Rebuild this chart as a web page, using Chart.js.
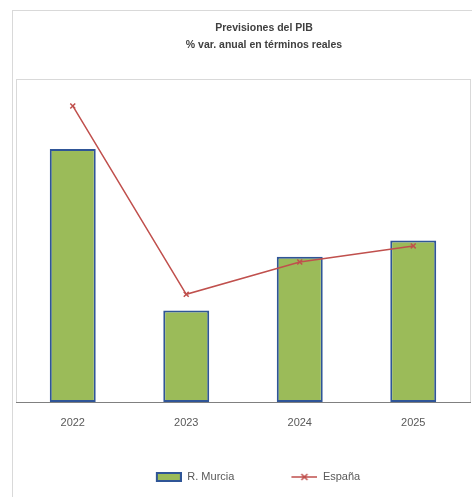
<!DOCTYPE html>
<html>
<head>
<meta charset="utf-8">
<script src="https://cdn.jsdelivr.net/npm/chart.js@4/dist/chart.umd.min.js"></script>
<style>
  html, body { margin: 0; padding: 0; background: #fff; overflow: hidden; }
  #frame { position: absolute; left: 12px; top: 10px; width: 540px; height: 540px; border: 1px solid #d9d9d9; }
  #pib { position: absolute; left: 0; top: 0; }
</style>
</head>
<body>
<div id="frame"></div>
<canvas id="pib" width="516" height="497"></canvas>
<script>
const years = ["2022", "2023", "2024", "2025"];
const murcia = [4.7, 1.7, 2.7, 3.0];
const espana = [5.5, 2.0, 2.6, 2.9];

const fontFamily = "'Liberation Sans Narrow', 'Liberation Sans', Arial, sans-serif";

// legend symbols, right aligned in a wider transparent box to space the items
function legendSymbol(draw) {
  const c = document.createElement("canvas");
  c.width = 56;
  c.height = 10;
  draw(c.getContext("2d"));
  return c;
}
const barSymbol = legendSymbol((g) => {
  g.fillStyle = "#9BBB59";
  g.fillRect(30, 0, 26, 10);
  g.strokeStyle = "#2F5597";
  g.lineWidth = 2;
  g.strokeRect(31, 1, 24, 8);
});
const lineSymbol = legendSymbol((g) => {
  g.strokeStyle = "#C0504D";
  g.lineWidth = 1.5;
  g.beginPath();
  g.moveTo(30, 5);
  g.lineTo(56, 5);
  g.moveTo(40, 2);
  g.lineTo(46, 8);
  g.moveTo(46, 2);
  g.lineTo(40, 8);
  g.stroke();
});

const plotBorder = {
  id: "plotBorder",
  beforeDraw(chart) {
    const { ctx, chartArea } = chart;
    ctx.save();
    ctx.strokeStyle = "#d9d9d9";
    ctx.lineWidth = 1;
    ctx.strokeRect(
      chartArea.left + 0.5,
      chartArea.top + 0.5,
      chartArea.right - chartArea.left,
      chartArea.bottom - chartArea.top
    );
    ctx.restore();
  },
};

const pibChart = new Chart(document.getElementById("pib").getContext("2d"), {
  type: "bar",
  data: {
    labels: years,
    datasets: [
      {
        label: "R. Murcia",
        data: murcia,
        backgroundColor: "#9BBB59",
        borderColor: "#2F5597",
        borderWidth: 2,
        borderSkipped: false,
        categoryPercentage: 1,
        barPercentage: 0.405,
        order: 1,
      },
      {
        type: "line",
        label: "España",
        data: espana,
        borderColor: "#C0504D",
        backgroundColor: "#C0504D",
        borderWidth: 1.5,
        pointStyle: "crossRot",
        pointRadius: 3.5,
        pointBorderWidth: 1.5,
        tension: 0,
        order: 0,
      },
    ],
  },
  options: {
    responsive: false,
    animation: false,
    layout: {
      padding: { left: 16, right: 4, top: 10, bottom: 4.5 },
    },
    plugins: {
      tooltip: { enabled: false },
      title: {
        display: true,
        text: ["Previsiones del PIB", "% var. anual en términos reales"],
        color: "#404040",
        font: { family: fontFamily, size: 10.5, weight: "bold", lineHeight: 1.62 },
        padding: { top: 9.5, bottom: 25.5 },
      },
      legend: {
        position: "bottom",
        fullSize: false,
        labels: {
          usePointStyle: true,
          pointStyleWidth: 56,
          boxHeight: 10,
          padding: 27,
          color: "#595959",
          font: { family: fontFamily, size: 11 },
          sort: (a, b) => a.datasetIndex - b.datasetIndex,
          generateLabels(chart) {
            const items = Chart.defaults.plugins.legend.labels.generateLabels(chart);
            items.forEach((item) => {
              item.pointStyle = item.datasetIndex === 0 ? barSymbol : lineSymbol;
            });
            return items;
          },
        },
      },
    },
    scales: {
      x: {
        grid: { display: false, drawTicks: false },
        border: { display: true, color: "#808080", width: 1, dash: [3, 2] },
        ticks: {
          padding: 14.5,
          color: "#595959",
          font: { family: fontFamily, size: 11 },
        },
        afterFit(scale) {
          scale.height = 42.5;
        },
      },
      y: {
        display: false,
        min: 0,
        max: 6,
      },
      yRight: {
        position: "right",
        display: true,
        grid: { display: false, drawTicks: false },
        border: { display: false },
        ticks: { display: false },
        afterFit(scale) {
          scale.width = 42;
        },
      },
    },
  },
  plugins: [plotBorder],
});
</script>
</body>
</html>
